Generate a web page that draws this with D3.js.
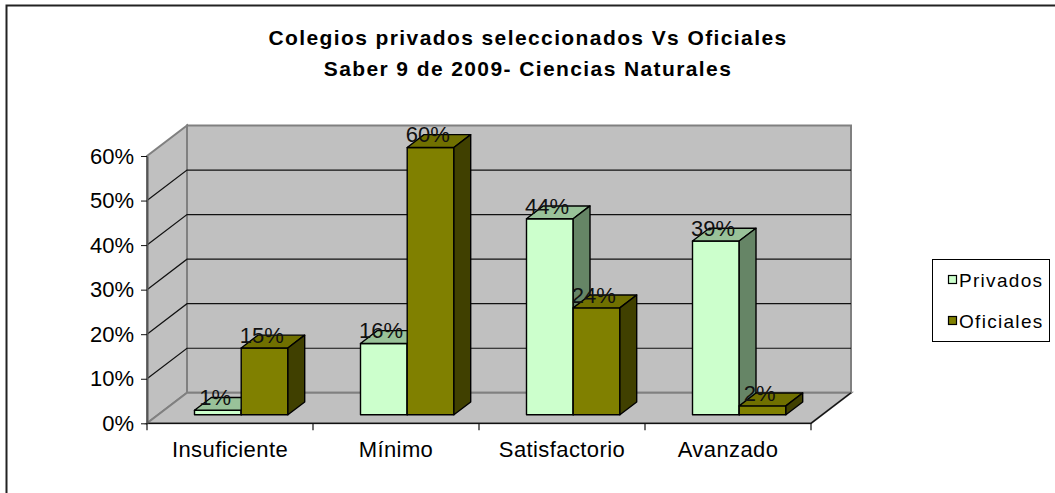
<!DOCTYPE html>
<html>
<head>
<meta charset="utf-8">
<script src="https://cdn.jsdelivr.net/npm/d3@7/dist/d3.min.js"></script>
<style>
  html, body { margin: 0; padding: 0; background: #fff; }
  svg { display: block; font-family: "Liberation Sans", Arial, sans-serif; }
</style>
</head>
<body>
<div id="chart"></div>
<script>
// data
const categories = ['Insuficiente', 'Mínimo', 'Satisfactorio', 'Avanzado'];
const seriesNames = ['Privados', 'Oficiales'];
const privados = [0.01, 0.16, 0.44, 0.39];
const oficiales = [0.15, 0.60, 0.24, 0.02];
const yTicks = [0, 0.1, 0.2, 0.3, 0.4, 0.5, 0.6];
const titleLines = ['Colegios privados seleccionados Vs Oficiales', 'Saber 9 de 2009- Ciencias Naturales'];

const width = 1055, height = 493;
const DX = 40, DY = 30.5;          // depth of the 3d box
const barD0 = 0.28, barD1 = 0.70;  // bar depth inside the box

const colors = {
  Privados: { front: '#CCFFCC', top: '#99C299', side: '#668566' },
  Oficiales: { front: '#808000', top: '#707000', side: '#404000' }
};

const svg = d3.select('#chart')
  .append('svg')
    .attr('width', width)
    .attr('height', height);

// outer frame
svg.append('rect')
  .attr('x', 6.5).attr('y', 5.5)
  .attr('width', 1060).attr('height', 520)
  .attr('fill', '#fff')
  .attr('stroke', '#222').attr('stroke-width', 2);

const x = d3.scaleBand().domain(categories).range([147, 811]);
const xs = d3.scaleBand().domain(seriesNames).range([0, 93.4]);
const y = d3.scaleLinear().domain([0, 0.6]).range([423.3, 156]);

const P = (px, v, d) => [px + d * DX, y(v) - d * DY];
const poly = pts => pts.map(p => p.join(',')).join(' ');

const x0 = x.range()[0], x1 = x.range()[1];

// back wall
svg.append('polygon')
  .attr('points', poly([P(x0, 0, 1), P(x1, 0, 1), P(x1, 0.6, 1), P(x0, 0.6, 1)]))
  .attr('fill', '#C0C0C0').attr('stroke', '#808080').attr('stroke-width', 2);
// side wall
svg.append('polygon')
  .attr('points', poly([P(x0, 0, 0), P(x0, 0, 1), P(x0, 0.6, 1), P(x0, 0.6, 0)]))
  .attr('fill', '#C0C0C0').attr('stroke', '#808080').attr('stroke-width', 2);
// floor
svg.append('polygon')
  .attr('points', poly([P(x0, 0, 0), P(x1, 0, 0), P(x1, 0, 1), P(x0, 0, 1)]))
  .attr('fill', '#C0C0C0').attr('stroke', '#808080').attr('stroke-width', 2);

// gridlines
const grid = yTicks.filter(t => t > 0 && t < 0.6);
svg.append('g').selectAll('polyline')
  .data(grid)
  .enter()
  .append('polyline')
    .attr('points', t => poly([P(x0, t, 0), P(x0, t, 1), P(x1, t, 1)]))
    .attr('fill', 'none')
    .attr('stroke', '#111').attr('stroke-width', 1.2);

// front floor edge and right floor edge
svg.append('polyline')
  .attr('points', poly([P(x0, 0, 0), P(x1, 0, 0), P(x1, 0, 1)]))
  .attr('fill', 'none').attr('stroke', '#111').attr('stroke-width', 1.3);

// y axis
const yAxis = d3.axisLeft(y)
  .tickValues(yTicks)
  .tickFormat(d3.format('.0%'))
  .tickSizeInner(6)
  .tickSizeOuter(0)
  .tickPadding(7);
const gy = svg.append('g').attr('transform', `translate(${x0},0)`).call(yAxis);
gy.select('.domain').attr('stroke', '#555').attr('stroke-width', 2);
gy.selectAll('.tick line').attr('stroke', '#111');
gy.selectAll('.tick text')
  .attr('font-size', 22)
  .attr('font-family', '"Liberation Sans", Arial, sans-serif')
  .attr('fill', '#000');

// category ticks at band edges
const edges = categories.map(c => x(c)).concat([x1]);
svg.append('g').selectAll('line')
  .data(edges)
  .enter()
  .append('line')
    .attr('x1', d => d).attr('x2', d => d)
    .attr('y1', y(0)).attr('y2', y(0) + 7)
    .attr('stroke', '#111').attr('stroke-width', 1.2);

// category labels
svg.append('g').selectAll('text')
  .data(categories)
  .enter()
  .append('text')
    .attr('x', d => x(d) + x.bandwidth() / 2)
    .attr('y', 457)
    .attr('text-anchor', 'middle')
    .attr('font-size', 22)
    .attr('letter-spacing', 0.4)
    .text(d => d);

// bars
const bars = [];
categories.forEach((c, i) => {
  [privados, oficiales].forEach((vals, s) => {
    bars.push({ cat: c, series: seriesNames[s], value: vals[i] });
  });
});

const pad = (x.bandwidth() - xs.range()[1]) / 2;
const gBars = svg.append('g');
bars.forEach(b => {
  const bx0 = x(b.cat) + pad + xs(b.series);
  const bx1 = bx0 + xs.bandwidth();
  const col = colors[b.series];
  const g = gBars.append('g');
  // front
  g.append('polygon')
    .attr('points', poly([P(bx0, 0, barD0), P(bx1, 0, barD0), P(bx1, b.value, barD0), P(bx0, b.value, barD0)]))
    .attr('fill', col.front);
  // top
  g.append('polygon')
    .attr('points', poly([P(bx0, b.value, barD0), P(bx1, b.value, barD0), P(bx1, b.value, barD1), P(bx0, b.value, barD1)]))
    .attr('fill', col.top);
  // side
  g.append('polygon')
    .attr('points', poly([P(bx1, 0, barD0), P(bx1, 0, barD1), P(bx1, b.value, barD1), P(bx1, b.value, barD0)]))
    .attr('fill', col.side);
  g.selectAll('polygon')
    .attr('stroke', '#000').attr('stroke-width', 1.4).attr('stroke-linejoin', 'round');
  b.lx = (bx0 + bx1) / 2 + (barD1 - barD0) * DX / 2;
  b.ly = P(bx0, b.value, barD0)[1] - 5;
});

// data labels
svg.append('g').selectAll('text')
  .data(bars)
  .enter()
  .append('text')
    .attr('x', d => d.lx)
    .attr('y', d => d.ly)
    .attr('text-anchor', 'middle')
    .attr('font-size', 22)
    .attr('fill', '#111')
    .text(d => d3.format('.0%')(d.value));

// title
svg.append('g').selectAll('text')
  .data(titleLines)
  .enter()
  .append('text')
    .attr('x', 528)
    .attr('y', (d, i) => 45 + i * 31)
    .attr('text-anchor', 'middle')
    .attr('font-size', 21)
    .attr('font-weight', 'bold')
    .attr('letter-spacing', 1.4)
    .text(d => d);

// legend
const legend = svg.append('g');
legend.append('rect')
  .attr('x', 932.5).attr('y', 259.5)
  .attr('width', 117).attr('height', 82)
  .attr('fill', '#fff').attr('stroke', '#000').attr('stroke-width', 1);
const li = legend.selectAll('g.item')
  .data(seriesNames)
  .enter()
  .append('g')
    .attr('class', 'item')
    .attr('transform', (d, i) => `translate(948,${280 + i * 41})`);
li.append('rect')
  .attr('x', 0.5).attr('y', -4.5)
  .attr('width', 8).attr('height', 8)
  .attr('fill', d => colors[d].front)
  .attr('stroke', '#000').attr('stroke-width', 1.2);
li.append('text')
  .attr('x', 11).attr('y', 7)
  .attr('font-size', 19)
  .attr('letter-spacing', 1.3)
  .text(d => d);
</script>
</body>
</html>
